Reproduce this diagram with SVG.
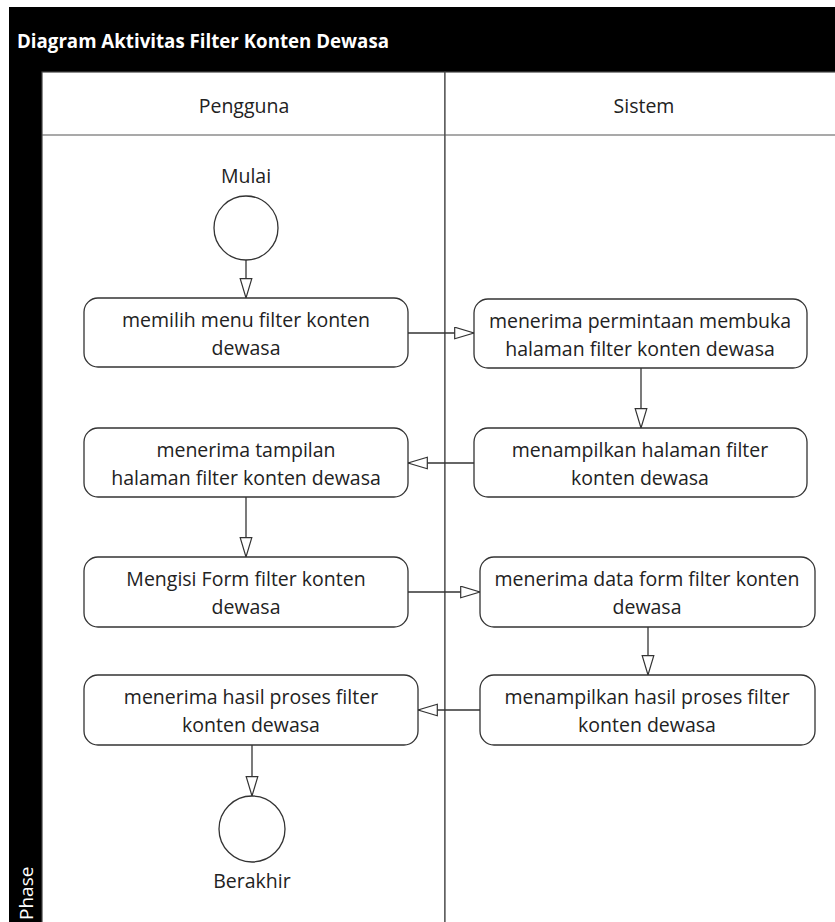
<svg xmlns="http://www.w3.org/2000/svg" width="835" height="922" viewBox="0 0 835 922">
  <defs>
    <style>
      .frame { fill: #000; }
      .lane { fill: #fff; stroke: #444; stroke-width: 1.2; }
      .node { fill: #fff; stroke: #333; stroke-width: 1.3; }
      .lbl { font-family: "Open Sans", "Liberation Sans", sans-serif; font-size: 19.5px; fill: #222; text-anchor: middle; }
      .edge { stroke: #333; stroke-width: 1.3; fill: none; marker-end: url(#open); }
    </style>
    <marker id="open" markerUnits="userSpaceOnUse" markerWidth="22" markerHeight="15" refX="20" refY="6.5" orient="auto">
      <path d="M0.7,0.7 L20,6.5 L0.7,12.3 Z" fill="#fff" stroke="#333" stroke-width="1.2"/>
    </marker>
  </defs>

  <rect width="835" height="922" fill="#fff"/>

  <!-- pool frame: title bar and phase strip -->
  <rect class="frame" x="9" y="7" width="826" height="915"/>
  <text x="17" y="48" font-family="'Open Sans', 'Liberation Sans', sans-serif" font-size="18.7" font-weight="bold" fill="#fff">Diagram Aktivitas Filter Konten Dewasa</text>
  <text transform="translate(33,920) rotate(-90)" font-family="'Open Sans', 'Liberation Sans', sans-serif" font-size="19" fill="#fff">Phase</text>

  <!-- swimlanes -->
  <g id="lane-pengguna">
    <rect class="lane" x="42" y="72" width="403" height="852"/>
    <line x1="42" y1="135" x2="445" y2="135" stroke="#555" stroke-width="1.2"/>
    <text class="lbl" x="244" y="113">Pengguna</text>
  </g>
  <g id="lane-sistem">
    <rect class="lane" x="445" y="72" width="392" height="852"/>
    <line x1="445" y1="135" x2="835" y2="135" stroke="#555" stroke-width="1.2"/>
    <text class="lbl" x="644" y="113">Sistem</text>
  </g>

  <!-- connectors -->
  <g id="edges">
    <line class="edge" x1="246" y1="260" x2="246" y2="298"/>
    <line class="edge" x1="408" y1="333" x2="474" y2="333"/>
    <line class="edge" x1="641" y1="368" x2="641" y2="428"/>
    <line class="edge" x1="474" y1="463" x2="408" y2="463"/>
    <line class="edge" x1="246" y1="497" x2="246" y2="557"/>
    <line class="edge" x1="408" y1="592" x2="480" y2="592"/>
    <line class="edge" x1="648" y1="627" x2="648" y2="675"/>
    <line class="edge" x1="480" y1="710" x2="418" y2="710"/>
    <line class="edge" x1="252" y1="745" x2="252" y2="796"/>
  </g>

  <!-- nodes -->
  <g id="start">
    <text class="lbl" x="246" y="183">Mulai</text>
    <circle class="node" cx="246" cy="228" r="32"/>
  </g>
  <g id="pilih-menu">
    <rect class="node" x="84" y="298" width="324" height="69" rx="14"/>
    <text class="lbl" x="246" y="327">memilih menu filter konten</text>
    <text class="lbl" x="246" y="355">dewasa</text>
  </g>
  <g id="terima-permintaan">
    <rect class="node" x="474" y="299" width="333" height="69" rx="14"/>
    <text class="lbl" x="640" y="328">menerima permintaan membuka</text>
    <text class="lbl" x="640" y="356">halaman filter konten dewasa</text>
  </g>
  <g id="terima-tampilan">
    <rect class="node" x="84" y="428" width="324" height="69" rx="14"/>
    <text class="lbl" x="246" y="457">menerima tampilan</text>
    <text class="lbl" x="246" y="485">halaman filter konten dewasa</text>
  </g>
  <g id="tampil-halaman">
    <rect class="node" x="474" y="428" width="333" height="69" rx="14"/>
    <text class="lbl" x="640" y="457">menampilkan halaman filter</text>
    <text class="lbl" x="640" y="485">konten dewasa</text>
  </g>
  <g id="isi-form">
    <rect class="node" x="84" y="557" width="324" height="70" rx="14"/>
    <text class="lbl" x="246" y="586">Mengisi Form filter konten</text>
    <text class="lbl" x="246" y="614">dewasa</text>
  </g>
  <g id="terima-data">
    <rect class="node" x="480" y="557" width="335" height="70" rx="14"/>
    <text class="lbl" x="647" y="586">menerima data form filter konten</text>
    <text class="lbl" x="647" y="614">dewasa</text>
  </g>
  <g id="terima-hasil">
    <rect class="node" x="84" y="675" width="334" height="70" rx="14"/>
    <text class="lbl" x="251" y="704">menerima hasil proses filter</text>
    <text class="lbl" x="251" y="732">konten dewasa</text>
  </g>
  <g id="tampil-hasil">
    <rect class="node" x="480" y="675" width="335" height="70" rx="14"/>
    <text class="lbl" x="647" y="704">menampilkan hasil proses filter</text>
    <text class="lbl" x="647" y="732">konten dewasa</text>
  </g>
  <g id="end">
    <circle class="node" cx="252" cy="829" r="33"/>
    <text class="lbl" x="252" y="888">Berakhir</text>
  </g>
</svg>
